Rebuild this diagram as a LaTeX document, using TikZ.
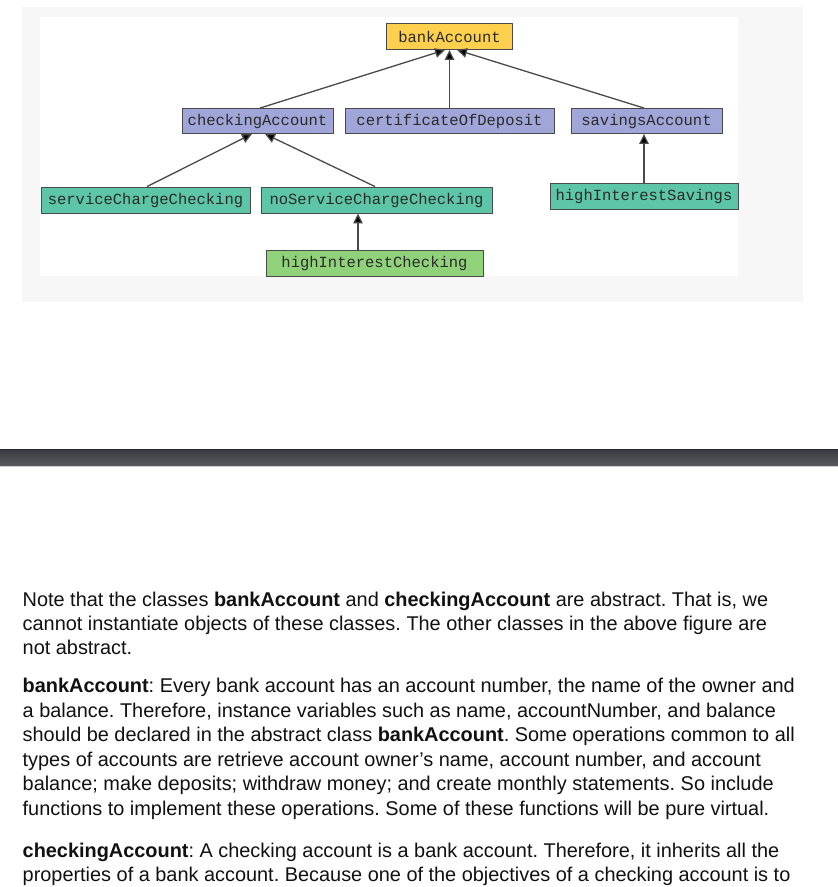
\documentclass[tikz,border=0pt]{standalone}
\usepackage{fontspec}
\setmainfont{Liberation Sans}
\newfontfamily\boxfont{Liberation Mono}
\usetikzlibrary{arrows.meta,calc}
\definecolor{outerbg}{HTML}{F7F7F7}
\definecolor{yellowfill}{HTML}{FFD04D}
\definecolor{purplefill}{HTML}{A0A6D8}
\definecolor{tealfill}{HTML}{5DC5A8}
\definecolor{greenfill}{HTML}{8FD27A}
\definecolor{boxline}{HTML}{4A4A4A}
\definecolor{boxtext}{HTML}{2A2A2A}
\definecolor{linkline}{HTML}{4A4A4A}
\definecolor{bartop}{HTML}{383C40}
\definecolor{barbot}{HTML}{565A5E}
\definecolor{textcol}{HTML}{111111}
\tikzset{
  cls/.style={draw=boxline, line width=0.9pt, inner sep=0pt, text=boxtext,
    font=\boxfont\fontsize{15.5}{16}\selectfont, minimum height=26pt},
  link/.style={draw=linkline, line width=1.3pt, -{Triangle[length=10pt,width=9.5pt,fill=black]}},
  para/.style={anchor=base west, inner sep=0pt, text=textcol, font=\fontsize{19.9}{24}\selectfont\frenchspacing}
}
\begin{document}
\begin{tikzpicture}[x=1pt,y=-1pt]
\useasboundingbox (0,0) rectangle (838,887);
\fill[white] (0,0) rectangle (838,887);
% panels
\fill[outerbg] (22,7) rectangle (803,302);
\fill[white] (40,17) rectangle (738,276);
% class boxes
\node[cls, fill=yellowfill, minimum width=126pt] (bank) at (449.5,36.5) {bankAccount};
\node[cls, fill=purplefill, minimum width=151pt, minimum height=25pt] (chk) at (257.5,121) {checkingAccount};
\node[cls, fill=purplefill, minimum width=209pt, minimum height=25pt] (cod) at (449.5,121) {certificateOfDeposit};
\node[cls, fill=purplefill, minimum width=151pt, minimum height=25pt] (sav) at (646.5,121) {savingsAccount};
\node[cls, fill=tealfill, minimum width=209pt] (scc) at (145.5,200) {serviceChargeChecking};
\node[cls, fill=tealfill, minimum width=231pt] (nscc) at (376.5,200) {noServiceChargeChecking};
\node[cls, fill=greenfill, minimum width=217pt] (hic) at (374.5,263) {highInterestChecking};
\node[cls, fill=tealfill, minimum width=188pt] (his) at (644,196) {highInterestSavings};
% connectors
\draw[link] ([xshift=2.5pt]chk.north) -- ([xshift=-4.5pt]bank.south);
\draw[link] (cod.north) -- (bank.south);
\draw[link] ([xshift=-2.5pt]sav.north) -- ([xshift=7.5pt]bank.south);
\draw[link] ([xshift=1.5pt]scc.north) -- ([xshift=-5.5pt]chk.south);
\draw[link] ([xshift=-1.5pt]nscc.north) -- ([xshift=7.5pt]chk.south);
\draw[link] ([xshift=-16.5pt]hic.north) -- ([xshift=-18.5pt]nscc.south);
\draw[link] (his.north) -- ([xshift=-2.5pt]sav.south);
% dark bar
\shade[top color=bartop, bottom color=barbot] (0,449) rectangle (838,466);
\fill[bartop!70!black] (0,449) rectangle (838,450);
\fill[gray!40] (0,466) rectangle (838,467.2);
% text
\node[para] (l1) at (22.5,606) {Note that the classes \textbf{bankAccount} and \textbf{checkingAccount} are abstract. That is, we};
\node[para] (l2) at (22.5,630) {cannot instantiate objects of these classes. The other classes in the above figure are};
\node[para] (l3) at (22.5,654.5) {not abstract.};
\node[para] (l4) at (22.5,692.5) {\textbf{bankAccount}: Every bank account has an account number, the name of the owner and};
\node[para] (l5) at (22.5,717) {a balance. Therefore, instance variables such as name, accountNumber, and balance};
\node[para] (l6) at (22.5,741.5) {should be declared in the abstract class \textbf{bankAccount}. Some operations common to all};
\node[para] (l7) at (22.5,766) {types of accounts are retrieve account owner’s name, account number, and account};
\node[para] (l8) at (22.5,790.5) {balance; make deposits; withdraw money; and create monthly statements. So include};
\node[para] (l9) at (22.5,815) {functions to implement these operations. Some of these functions will be pure virtual.};
\node[para] (l10) at (22.5,857) {\textbf{checkingAccount}: A checking account is a bank account. Therefore, it inherits all the};
\node[para] (l11) at (22.5,881.5) {properties of a bank account. Because one of the objectives of a checking account is to};
\end{tikzpicture}
\end{document}
